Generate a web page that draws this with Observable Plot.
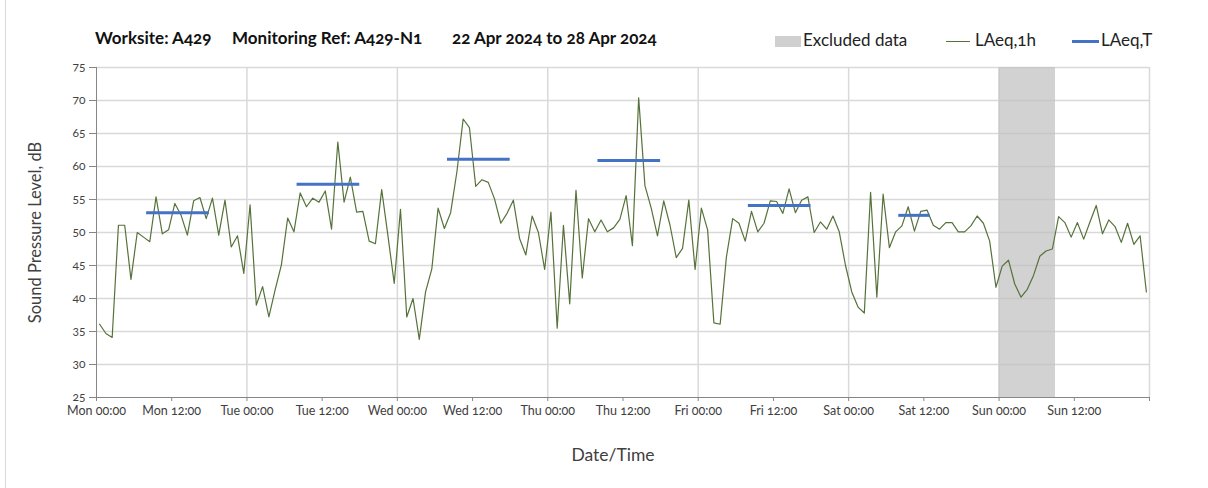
<!DOCTYPE html>
<html>
<head>
<meta charset="utf-8">
<script src="https://cdn.jsdelivr.net/npm/d3@7"></script>
<script src="https://cdn.jsdelivr.net/npm/@observablehq/plot@0.6"></script>
<style>
  body { margin:0; background:#fff; font-family: Lato, "Open Sans", sans-serif; }
  #wrap { position:relative; width:1208px; height:488px; overflow:hidden; }
  #border { position:absolute; left:5px; top:0; width:1px; height:488px; background:#d9d9d9; }
  #header { position:relative; height:55px; }
  .t { position:absolute; top:27px; font-weight:bold; font-size:17px; color:#111; white-space:nowrap; font-variant-numeric: oldstyle-nums; }
  .lg { position:absolute; top:29px; font-size:17px; color:#222; white-space:nowrap; font-variant-numeric: oldstyle-nums; }
  .sw { position:absolute; }
  #chart svg text { font-variant-numeric: oldstyle-nums; }
</style>
</head>
<body>
<div id="wrap">
  <div id="border"></div>
  <div id="header">
    <span class="t" style="left:95px">Worksite: A429</span>
    <span class="t" style="left:232px">Monitoring Ref: A429-N1</span>
    <span class="t" style="left:452px">22 Apr 2024 to 28 Apr 2024</span>
    <div class="sw" style="left:775px;top:36px;width:26px;height:11px;background:#d0d0d0"></div>
    <span class="lg" style="left:803px">Excluded data</span>
    <div class="sw" style="left:946px;top:41px;width:24px;height:1px;background:#56723a"></div>
    <span class="lg" style="left:975px">LAeq,1h</span>
    <div class="sw" style="left:1072px;top:40px;width:27px;height:3px;background:#4472c4"></div>
    <span class="lg" style="left:1101px">LAeq,T</span>
  </div>
  <div id="chart"></div>
</div>
<script>
// Hourly LAeq,1h values, Mon 22 Apr 2024 00:00 onwards (168 hours)
const laeq1h = [
  36.1, 34.7, 34.1, 51.1, 51.1, 42.9, 50.0, 49.3, 48.6, 55.4, 49.8, 50.4, 54.4, 52.6, 49.6, 54.8, 55.3, 52.1, 55.2, 49.6, 54.9, 47.8, 49.5, 43.8,
  54.2, 39.0, 41.8, 37.2, 41.3, 45.1, 52.2, 50.1, 56.0, 53.9, 55.2, 54.6, 56.3, 50.5, 63.7, 54.6, 58.4, 53.1, 53.2, 48.7, 48.3, 56.5, 49.5, 42.3,
  53.5, 37.2, 40.0, 33.8, 41.0, 44.5, 53.7, 50.6, 53.0, 59.2, 67.2, 65.9, 57.0, 58.0, 57.6, 55.1, 51.4, 52.9, 54.9, 49.1, 46.6, 52.5, 50.0, 44.4,
  53.1, 35.5, 51.1, 39.2, 56.4, 43.1, 52.1, 50.1, 51.9, 50.1, 50.7, 52.0, 55.6, 48.0, 70.4, 57.1, 53.7, 49.5, 54.8, 51.1, 46.2, 47.6, 54.9, 44.4,
  53.7, 50.4, 36.3, 36.1, 46.3, 52.1, 51.4, 48.7, 53.2, 50.1, 51.4, 54.8, 54.7, 52.9, 56.6, 53.0, 54.9, 55.4, 50.0, 51.6, 50.5, 52.5, 50.1, 45.0,
  41.0, 38.7, 37.8, 56.1, 40.2, 55.8, 47.7, 50.1, 51.0, 53.9, 50.2, 53.2, 53.4, 51.1, 50.5, 51.5, 51.5, 50.1, 50.1, 51.0, 52.5, 51.4, 48.7, 41.7,
  44.9, 45.8, 42.2, 40.2, 41.4, 43.5, 46.4, 47.2, 47.5, 52.4, 51.5, 49.3, 51.5, 49.0, 51.6, 54.1, 49.8, 51.9, 50.9, 48.5, 51.4, 48.2, 49.5, 41.0
];
// LAeq,T periods
const periodStart = ["2024-04-22T08:00Z","2024-04-23T08:00Z","2024-04-24T08:00Z","2024-04-25T08:00Z","2024-04-26T08:00Z","2024-04-27T08:00Z"];
const periodEnd   = ["2024-04-22T18:00Z","2024-04-23T18:00Z","2024-04-24T18:00Z","2024-04-25T18:00Z","2024-04-26T18:00Z","2024-04-27T13:00Z"];
const laeqT       = [53.0, 57.3, 61.1, 60.9, 54.1, 52.6];
// Excluded data window
const excludedStart = "2024-04-28T00:00Z";
const excludedEnd   = "2024-04-28T09:00Z";
// Axis
const yTicks = [25, 30, 35, 40, 45, 50, 55, 60, 65, 70, 75];
const xStart = "2024-04-22T00:00Z";
const xEnd = "2024-04-29T00:00Z";

const H = 3600e3;
const t0 = new Date(xStart).getTime();
const tEnd = new Date(xEnd).getTime();
const series = laeq1h.map((v, i) => ({ t: new Date(t0 + i * H + H / 2), v }));
const periods = laeqT.map((v, i) => ({ from: new Date(periodStart[i]), to: new Date(periodEnd[i]), v }));
const excluded = [{ from: new Date(excludedStart), to: new Date(excludedEnd) }];
const xTicks12 = d3.utcHour.every(12).range(new Date(t0), new Date(tEnd + 1));
const dayLines = d3.utcDay.range(new Date(t0 + 24 * H), new Date(tEnd + 1));
const fmt = d3.utcFormat("%a %H:%M");

const chart = Plot.plot({
  width: 1208,
  height: 433,
  marginTop: 12,
  marginBottom: 91,
  marginLeft: 96,
  marginRight: 59,
  style: { fontFamily: "Lato, 'Open Sans', sans-serif", fontSize: "12px", color: "#404040", background: "transparent" },
  x: { type: "utc", domain: [new Date(t0), new Date(tEnd)] },
  y: { domain: [25, 75] },
  marks: [
    Plot.ruleY(yTicks.filter(d => d > 25), { stroke: "#d9d9d9", strokeWidth: 1.5 }),
    Plot.ruleX(dayLines, { stroke: "#d9d9d9", strokeWidth: 1.5 }),
    Plot.rect(excluded, { x1: "from", x2: "to", y1: 25, y2: 75, fill: "#bfbfbf", fillOpacity: 0.7 }),
    Plot.lineY(series, { x: "t", y: "v", stroke: "#56723a", strokeWidth: 1.2 }),
    Plot.ruleY(periods, { x1: "from", x2: "to", y: "v", stroke: "#4472c4", strokeWidth: 3 }),
    Plot.ruleX([new Date(t0)], { stroke: "#868686", strokeWidth: 1 }),
    Plot.ruleY([25], { stroke: "#868686", strokeWidth: 1 }),
    Plot.axisY({ ticks: yTicks, tickSize: 7, tickPadding: 4, stroke: "#868686", fill: "#404040", fontSize: 12, label: null }),
    Plot.axisX({ ticks: xTicks12, tickFormat: d => (+d >= tEnd ? "" : fmt(d)), tickSize: 4, tickPadding: 5, stroke: "#868686", fill: "#404040", fontSize: 12.5, label: null }),
    Plot.text(["Sound Pressure Level, dB"], { frameAnchor: "left", textAnchor: "middle", dx: -61, rotate: -90, fontSize: 16.5, fill: "#404040" }),
    Plot.text(["Date/Time"], { frameAnchor: "bottom", dx: -10, dy: 63, fontSize: 17.5, fill: "#404040" })
  ]
});
document.getElementById("chart").appendChild(chart);
</script>
</body>
</html>
